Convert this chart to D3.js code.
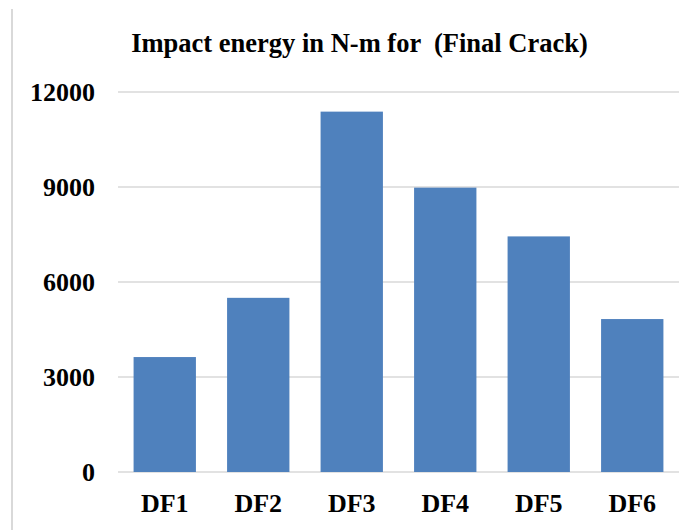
<!DOCTYPE html>
<html>
<head>
<meta charset="utf-8">
<script src="https://cdn.jsdelivr.net/npm/d3@7"></script>
</head>
<body style="margin:0">
<script>
const categories = ["DF1", "DF2", "DF3", "DF4", "DF5", "DF6"];
const values = [3630, 5500, 11380, 8980, 7440, 4830];
const yTicks = [0, 3000, 6000, 9000, 12000];
const title = "Impact energy in N-m for  (Final Crack)";

const W = 695, H = 530;
const margin = { left: 118, right: 16, top: 92, bottom: 58 };
const FONT = "Liberation Serif";

const svg = d3.select("body").append("svg")
  .attr("width", W).attr("height", H)
  .style("display", "block")
  .attr("font-family", FONT);

// left border line of chart area
svg.append("line")
  .attr("x1", 12).attr("x2", 12).attr("y1", 9).attr("y2", H)
  .attr("stroke", "#d9d9d9").attr("stroke-width", 2);

const x = d3.scaleBand()
  .domain(categories)
  .range([margin.left, W - margin.right])
  .paddingInner(1/3).paddingOuter(1/6);

const y = d3.scaleLinear()
  .domain([0, 12000])
  .range([H - margin.bottom, margin.top]);

// gridlines
svg.append("g").selectAll("line")
  .data(yTicks).join("line")
  .attr("x1", margin.left).attr("x2", W - margin.right)
  .attr("y1", d => y(d)).attr("y2", d => y(d))
  .attr("stroke", "#d9d9d9").attr("stroke-width", 1.5);

// bars
svg.append("g").selectAll("rect")
  .data(values).join("rect")
  .attr("x", (d, i) => x(categories[i]))
  .attr("width", x.bandwidth())
  .attr("y", d => y(d))
  .attr("height", d => y(0) - y(d))
  .attr("fill", "#4f81bd");

function styleText(sel, size) {
  sel.style("font-family", `"${FONT}"`)
    .style("font-weight", "bold")
    .style("font-size", size + "px")
    .attr("fill", "#000");
}

// y axis
const yAxis = svg.append("g")
  .attr("transform", `translate(${margin.left - 23},0)`)
  .call(d3.axisLeft(y).tickValues(yTicks).tickFormat(d3.format("d")).tickSize(0).tickPadding(0));
yAxis.attr("font-family", FONT).attr("font-size", 26);
yAxis.select(".domain").remove();
styleText(yAxis.selectAll("text"), 26);

// x axis
const xAxis = svg.append("g")
  .attr("transform", `translate(0,${y(0)})`)
  .call(d3.axisBottom(x).tickSize(0).tickPadding(22));
xAxis.attr("font-family", FONT).attr("font-size", 26);
xAxis.select(".domain").remove();
styleText(xAxis.selectAll("text"), 26);

// title
const t = svg.append("text")
  .attr("x", (131 + 588) / 2)
  .attr("y", 52)
  .attr("text-anchor", "middle")
  .style("white-space", "pre")
  .text(title);
styleText(t, 26.5);
</script>
</body>
</html>
